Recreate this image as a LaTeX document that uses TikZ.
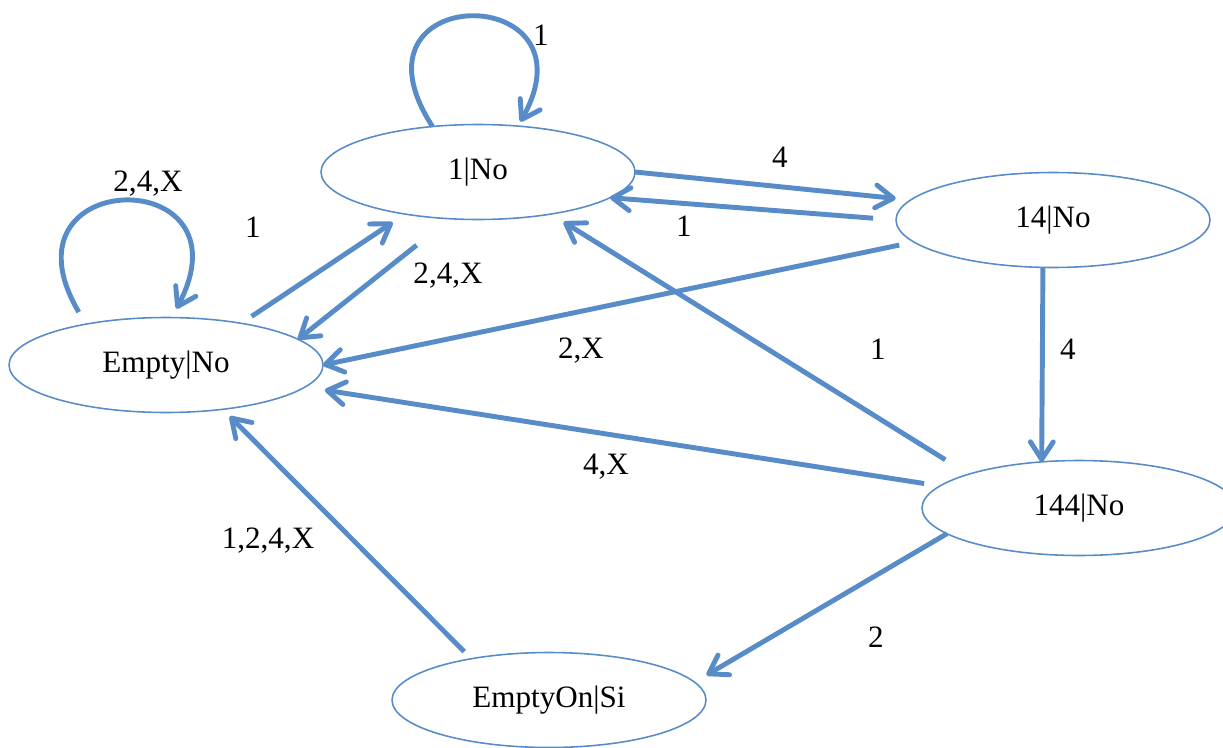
\documentclass[tikz,border=0pt]{standalone}
\usepackage{fontspec}
\setmainfont{Liberation Serif}
\usepackage{tikz}
\usetikzlibrary{
	arrows.meta,
	shapes.geometric,
}
\definecolor{lineblue}{RGB}{88,140,200}
\newcommand{\statefont}{\fontsize{17.7}{21}\selectfont}
\tikzset{state node/.style={draw=lineblue,ellipse,line width=0.9pt,inner sep=0mm,outer sep=0mm,minimum width=6.28cm,minimum height=1.9cm,font=\statefont,}}
\tikzset{tag/.style={draw=none,inner sep=0mm,font=\statefont,}}
\tikzset{move/.style={->,lineblue,line width=2.8pt,}}
\tikzset{
	>={Straight Barb[length=10pt,width=13pt,round]},
}

\begin{document}
\begin{tikzpicture}[x=0.02cm,y=-0.02cm]
\useasboundingbox (0,0) rectangle (1223,747);

\node[state node](one) at (478,172){1|No};
\node[state node](empty) at (166,365){Empty|No};
\node[state node](fourteen) at (1053,220){14|No};
\node[state node](f144) at (1079,508){144|No};
\node[state node](onsi) at (549,700){EmptyOn|Si};

% loops
\draw[move,shorten >=0.1cm] (one.135) .. controls +(-95,-146) and +(82,-146) .. (one.49);
\draw[move,shorten <=0.28cm,shorten >=0.2cm] (empty.153) .. controls +(-93,-158) and +(82,-156) .. (empty.83);

\draw[move,shorten <=0.25cm,shorten >=0.3cm] (empty.29) -- (one.210);
\draw[move,shorten <=0.85cm] (one.239) -- (empty.11);
\draw[move,shorten >=0.3cm] (one.0) -- (fourteen.172);
\draw[move,shorten <=0.46cm] (fourteen.180) -- (one.-11);
\draw[move,shorten <=0.3cm] (fourteen.189) -- (empty.0);
\draw[move] (fourteen.258) -- (f144.129);
\draw[move,shorten <=0.55cm,shorten >=0.3cm] (f144.163) -- (one.-30);
\draw[move,shorten <=0.32cm,shorten >=0.4cm] (f144.171) -- (empty.-9);
\draw[move,shorten >=0.28cm] (f144.191) -- (onsi.7);
\draw[move,shorten <=0.2cm,shorten >=0.2cm] (onsi.152) -- (empty.-38);

% labels
\node[tag](toneloop) at (541,35){1};
\node[tag](temptyloop) at (148,184){2,4,X};
\node[tag](temptyone) at (253,227){1};
\node[tag](toneempty) at (448,276){2,4,X};
\node[tag](tonefour) at (780,157){4};
\node[tag](tfourone) at (684,226){1};
\node[tag](tfourempty) at (581,351){2,X};
\node[tag](tfourdown) at (1068,349){4};
\node[tag](tfone) at (878,349){1};
\node[tag](tfempty) at (606,467){4,X};
\node[tag](tfonsi) at (876,637){2};
\node[tag](tonsiempty) at (268,541){1,2,4,X};
\end{tikzpicture}
\end{document}
